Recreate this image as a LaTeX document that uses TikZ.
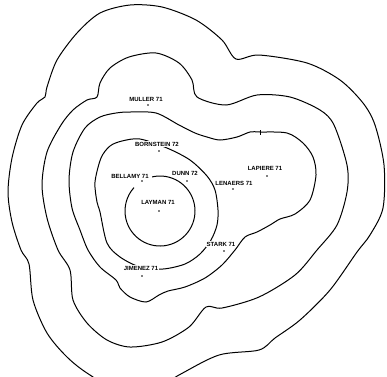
\documentclass[tikz,border=0pt]{standalone}
\usepackage{fontspec}
\setmainfont{Liberation Sans}
\begin{document}
\begin{tikzpicture}[x=1pt,y=-1pt,
  contour/.style={line width=1pt, line join=round},
  sitedot/.style={circle, fill, inner sep=0pt, minimum size=1.6pt},
  sitelabel/.style={fill=white, inner sep=0.6pt, font=\fontsize{6}{6}\selectfont\bfseries}]
\useasboundingbox (0,0) rectangle (387,376);
\clip (0,0) rectangle (387,376);
% outermost ring
\draw[contour] plot[smooth cycle, tension=0.5] coordinates {
  (130,5) (162,7) (196,20) (222,40) (236,59) (259,55) (307,63) (340,80)
  (363,103) (375,125) (384,165) (383,208) (370,235) (357,252) (330,290)
  (300,320) (275,338) (259,350) (219,355) (179,375) (135,400) (90,375)
  (67,357) (47,333) (33,300) (29,264) (21,250) (12,222) (8,192) (12,158)
  (22,125) (37,103) (45,97) (47,87) (57,60) (77,33) (100,13)};
% fourth ring
\draw[contour] plot[smooth cycle, tension=0.5] coordinates {
  (129,57) (156,53) (179,63) (192,80) (197,97) (226,105) (257,95) (290,97)
  (320,110) (334,125) (347,165) (347,192) (337,225) (317,250) (295,275)
  (259,297) (222,308) (206,307) (189,327) (162,342) (130,347) (107,340)
  (87,323) (73,300) (70,270) (58,250) (47,218) (42,185) (47,152) (61,125)
  (73,110) (87,100) (97,97) (100,83) (110,68)};
% third ring
\draw[contour] plot[smooth cycle, tension=0.5] coordinates {
  (130,112) (156,113) (179,125) (195,133) (207,137) (220,140) (237,137)
  (250,132) (260,132) (287,133) (303,143) (313,157) (316,175) (310,200)
  (295,214) (280,219) (270,225) (257,232) (245,237) (235,250) (222,265)
  (205,278) (185,287) (168,291) (159,295) (146,302) (130,297) (120,288)
  (116,280) (100,267) (88,250) (80,230) (72,208) (69,180) (73,152)
  (85,128) (100,117) (116,113)};
\draw[contour] (260,130) -- (260,135);
% second ring
\draw[contour] plot[smooth cycle, tension=0.5] coordinates {
  (140,139) (167,148) (190,160) (207,176) (215,190) (218,210) (217,225)
  (211,240) (200,254) (185,264) (163,269) (140,267) (120,257) (107,243)
  (100,212) (97,202) (95,182) (101,158) (110,146) (122,141)};
% inner ring
\draw[contour] (160,211) ++(257:35) arc[start angle=257, end angle=582, radius=35];
% sites
\node[sitedot] (muller) at (148,105) {};
\node[sitedot] (bornstein) at (159,151) {};
\node[sitedot] (bellamy) at (142,181) {};
\node[sitedot] (dunn) at (187,181) {};
\node[sitedot] (lenaers) at (233,189) {};
\node[sitedot] (lapiere) at (267,176) {};
\node[sitedot] (layman) at (159,211) {};
\node[sitedot] (stark) at (224,251) {};
\node[sitedot] (jimenez) at (142,276) {};
\node[sitelabel] (muller-lbl) at (146,99) {MULLER 71};
\node[sitelabel] (bornstein-lbl) at (157,144) {BORNSTEIN 72};
\node[sitelabel] (bellamy-lbl) at (130,176) {BELLAMY 71};
\node[sitelabel] (dunn-lbl) at (185,173) {DUNN 72};
\node[sitelabel] (lenaers-lbl) at (234,183) {LENAERS 71};
\node[sitelabel] (lapiere-lbl) at (265,168) {LAPIERE 71};
\node[sitelabel] (layman-lbl) at (158,202) {LAYMAN 71};
\node[sitelabel] (stark-lbl) at (221,244) {STARK 71};
\node[sitelabel] (jimenez-lbl) at (141,268) {JIMENEZ 71};
\end{tikzpicture}
\end{document}
